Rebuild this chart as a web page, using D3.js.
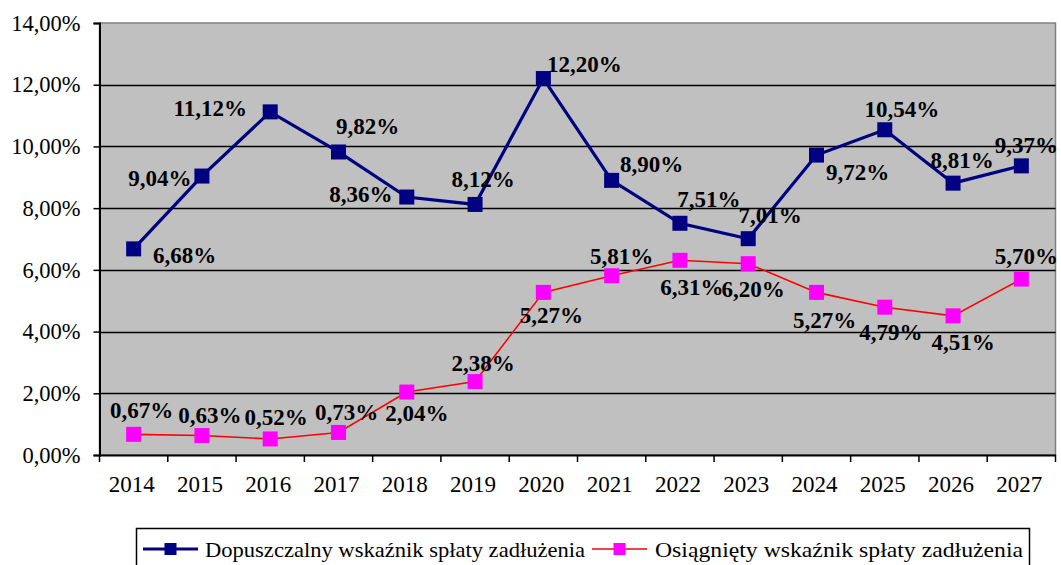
<!DOCTYPE html>
<html><head><meta charset="utf-8">
<script src="https://cdn.jsdelivr.net/npm/d3@7"></script>
<style>
body{margin:0;background:#fff}svg{display:block}
svg text{font-family:"Liberation Serif","Times New Roman",Times,serif !important;}
</style>
</head><body>
<svg id="c" width="1061" height="565"></svg>
<script>
const years = ["2014","2015","2016","2017","2018","2019","2020","2021","2022","2023","2024","2025","2026","2027"];
const allowed = [6.68, 9.04, 11.12, 9.82, 8.36, 8.12, 12.20, 8.90, 7.51, 7.01, 9.72, 10.54, 8.81, 9.37];
const achieved = [0.67, 0.63, 0.52, 0.73, 2.04, 2.38, 5.27, 5.81, 6.31, 6.20, 5.27, 4.79, 4.51, 5.70];
const yTicks = [0, 2, 4, 6, 8, 10, 12, 14];
const seriesNames = ["Dopuszczalny wskaźnik spłaty zadłużenia", "Osiągnięty wskaźnik spłaty zadłużenia"];
// label offsets (dx, dy) relative to marker, per point
const allowedLabelPos = [[51,6],[-42,2],[-60,-4],[29,-26],[-46,-3],[8,-25],[41,-15],[40,-16],[29,-24],[22,-24],[41,17],[17,-21],[9,-23],[5,-21]];
const achievedLabelPos = [[8,-24],[8,-21],[6,-22],[8,-21],[10,21],[8,-19],[8,23],[10,-20],[12,27],[5,25],[8,28],[6,25],[10,26],[5,-23]];

const svg = d3.select("#c");
const L = 99.5, R = 1055.5, T = 23, B = 455;
const x = d3.scaleBand().domain(years).range([L, R]);
const y = d3.scaleLinear().domain([0, 14]).range([B, T]);
const cx = d => x(d) + x.bandwidth()/2;
const fmt = v => v.toFixed(2).replace(".", ",") + "%";

svg.append("rect").attr("x", L).attr("y", T).attr("width", R-L).attr("height", B-T)
  .attr("fill", "#c0c0c0").attr("stroke", "#808080").attr("stroke-width", 1.5);

// gridlines
svg.append("g").selectAll("line").data(yTicks.filter(t => t > 0 && t < 14)).join("line")
  .attr("x1", L).attr("x2", R).attr("y1", d => Math.round(y(d))+0.5).attr("y2", d => Math.round(y(d))+0.5)
  .attr("stroke", "#000").attr("stroke-width", 1.5);

// y axis
const yAxis = d3.axisLeft(y).tickValues(yTicks).tickSize(6).tickFormat(d => fmt(d));
const gy = svg.append("g").attr("transform", `translate(${L},0)`).call(yAxis);
gy.attr("font-family", null).attr("font-size", null);
gy.select(".domain").attr("stroke", "#000").attr("stroke-width", 2);
gy.selectAll(".tick line").attr("stroke", "#000").attr("stroke-width", 1.5);
gy.selectAll(".tick text").style("font-size", "22.5px").attr("fill", "#000").attr("x", -19);

// x axis
const xAxis = d3.axisBottom(x).tickSize(0).tickPadding(21);
const gx = svg.append("g").attr("transform", `translate(0,${B})`).call(xAxis);
gx.attr("font-family", null).attr("font-size", null);
gx.select(".domain").attr("stroke", "#000").attr("stroke-width", 2);
gx.selectAll(".tick text").style("font-size", "23px").attr("fill", "#000").attr("dx", -2);
const bounds = years.map(d => x(d)).concat([R]);
svg.append("g").selectAll("line").data(bounds).join("line")
  .attr("x1", d => d).attr("x2", d => d).attr("y1", B).attr("y2", B+7)
  .attr("stroke", "#000").attr("stroke-width", 1.5);

// lines
const line = d3.line().x((d,i) => cx(years[i])).y(d => y(d));
svg.append("path").datum(achieved).attr("d", line).attr("fill", "none").attr("stroke", "#ff0000").attr("stroke-width", 1.6);
svg.append("path").datum(allowed).attr("d", line).attr("fill", "none").attr("stroke", "#000080").attr("stroke-width", 3.2);

const ms = 15;
svg.append("g").selectAll("rect").data(achieved).join("rect")
  .attr("x", (d,i) => cx(years[i]) - ms/2).attr("y", d => y(d) - ms/2)
  .attr("width", ms).attr("height", ms).attr("fill", "#ff00ff");
svg.append("g").selectAll("rect").data(allowed).join("rect")
  .attr("x", (d,i) => cx(years[i]) - ms/2).attr("y", d => y(d) - ms/2)
  .attr("width", ms).attr("height", ms).attr("fill", "#000080");

// labels
function labels(data, pos) {
  svg.append("g").selectAll("text").data(data).join("text")
    .attr("x", (d,i) => cx(years[i]) + pos[i][0])
    .attr("y", (d,i) => y(d) + pos[i][1])
    .attr("dy", "0.35em").attr("text-anchor", "middle")
    .style("font-size", "23px").attr("font-weight", "bold").attr("fill", "#000")
    .text(d => fmt(d));
}
labels(allowed, allowedLabelPos);
labels(achieved, achievedLabelPos);

// legend
const lg = svg.append("g");
lg.append("rect").attr("x", 136.5).attr("y", 528.5).attr("width", 893).attr("height", 45)
  .attr("fill", "#fff").attr("stroke", "#000").attr("stroke-width", 1.5);
const ly = 549;
const items = [
  {x0: 143, x1: 198, tx: 205, tw: 380, stroke: "#000080", sw: 3.2, fill: "#000080"},
  {x0: 592, x1: 647, tx: 655, tw: 368, stroke: "#ff0000", sw: 1.6, fill: "#ff00ff"}
];
items.forEach((it, i) => {
  lg.append("line").attr("x1", it.x0).attr("x2", it.x1).attr("y1", ly).attr("y2", ly)
    .attr("stroke", it.stroke).attr("stroke-width", it.sw);
  lg.append("rect").attr("x", (it.x0+it.x1)/2 - 6).attr("y", ly - 6).attr("width", 12).attr("height", 12).attr("fill", it.fill);
  lg.append("text").attr("x", it.tx).attr("y", ly).attr("dy", "0.35em")
    .style("font-size", "22px").attr("fill", "#000")
    .attr("textLength", it.tw).attr("lengthAdjust", "spacingAndGlyphs")
    .text(seriesNames[i]);
});
</script>
</body></html>
